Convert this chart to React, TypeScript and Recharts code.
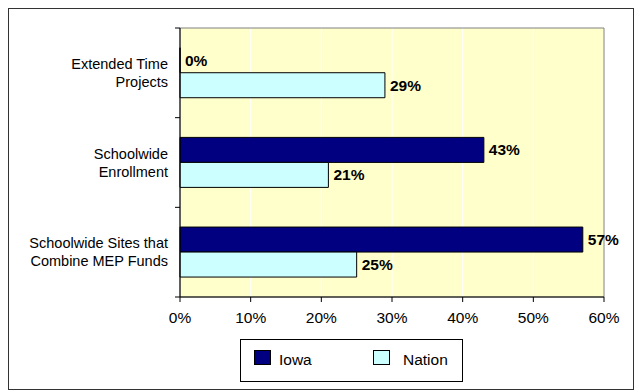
import {
  Bar,
  BarChart,
  CartesianGrid,
  LabelList,
  ReferenceArea,
  XAxis,
  YAxis,
} from "recharts";

const categories = [
  "Extended Time\nProjects",
  "Schoolwide\nEnrollment",
  "Schoolwide Sites that\nCombine MEP Funds",
];
const iowa = [0, 43, 57];
const nation = [29, 21, 25];
const xTicks = [0, 10, 20, 30, 40, 50, 60];

const data = categories.map((name, i) => ({ name, iowa: iowa[i], nation: nation[i] }));

const FONT = "Arial, 'Liberation Sans', sans-serif";

function CategoryTick(props: any) {
  const { x, y, payload, index, visibleTicksCount } = props;
  const half = payload?.offset ?? 45;
  const axisX = x + 8;
  const lines = String(payload.value).split("\n");
  return (
    <g>
      <line x1={axisX - 5} x2={axisX} y1={y - half} y2={y - half} stroke="#000" />
      {index === visibleTicksCount - 1 && (
        <line x1={axisX - 5} x2={axisX} y1={y + half} y2={y + half} stroke="#000" />
      )}
      {lines.map((l, i) => (
        <text
          key={i}
          x={x - 4}
          y={y - 9 + i * 18}
          textAnchor="end"
          dominantBaseline="central"
          fontSize={14.5}
          fontFamily={FONT}
          fill="#000"
        >
          {l}
        </text>
      ))}
    </g>
  );
}

const pct = (v: any) => `${v}%`;
const labelStyle = { fontSize: 15.5, fontWeight: "bold", fill: "#000", fontFamily: FONT };
// keep zero-valued bars present so their label still shows
const tinyForZero = (v: any) => (v === 0 ? 0.01 : 0);

export default function App() {
  return (
    <div
      style={{
        position: "relative",
        width: 626,
        height: 382,
        boxSizing: "border-box",
        border: "1px solid #333",
        background: "#fff",
        fontFamily: FONT,
      }}
    >
      <BarChart
        width={624}
        height={380}
        data={data}
        layout="vertical"
        margin={{ top: 19, right: 29, left: 0, bottom: 62 }}
        barCategoryGap="22%"
        barGap={0}
      >
        <CartesianGrid horizontal={false} stroke="#fff" fill="#FFFFCC" fillOpacity={1} />
        <ReferenceArea x1={0} x2={60} fill="none" stroke="#808080" />
        <XAxis
          type="number"
          domain={[0, 60]}
          ticks={xTicks}
          tickFormatter={pct}
          tick={{ fontSize: 15.5, fill: "#000", fontFamily: FONT }}
          axisLine={{ stroke: "#000" }}
          tickLine={{ stroke: "#000" }}
          tickSize={5}
          tickMargin={10}
          height={30}
        />
        <YAxis
          type="category"
          dataKey="name"
          width={171}
          axisLine={{ stroke: "#000" }}
          tickLine={false}
          tickSize={5}
          tickMargin={3}
          tick={<CategoryTick />}
          interval={0}
        />
        <Bar
          dataKey="iowa"
          name="Iowa"
          fill="#000080"
          stroke="#000"
          strokeWidth={1}
          minPointSize={tinyForZero}
          isAnimationActive={false}
        >
          <LabelList dataKey="iowa" position="right" offset={5} formatter={pct} style={labelStyle} />
        </Bar>
        <Bar
          dataKey="nation"
          name="Nation"
          fill="#CCFFFF"
          stroke="#000"
          strokeWidth={1}
          minPointSize={tinyForZero}
          isAnimationActive={false}
        >
          <LabelList dataKey="nation" position="right" offset={5} formatter={pct} style={labelStyle} />
        </Bar>
      </BarChart>
      <div
        style={{
          position: "absolute",
          left: 231,
          top: 330,
          width: 223,
          height: 43,
          boxSizing: "border-box",
          border: "1px solid #000",
          fontSize: 15.5,
        }}
      >
        <div style={{ position: "absolute", left: 13, top: 10, width: 17, height: 15, boxSizing: "border-box", border: "1px solid #000", background: "#000080" }} />
        <div style={{ position: "absolute", left: 38, top: 12, lineHeight: "16px" }}>Iowa</div>
        <div style={{ position: "absolute", left: 132, top: 10, width: 17, height: 15, boxSizing: "border-box", border: "1px solid #000", background: "#CCFFFF" }} />
        <div style={{ position: "absolute", left: 162, top: 12, lineHeight: "16px" }}>Nation</div>
      </div>
    </div>
  );
}
